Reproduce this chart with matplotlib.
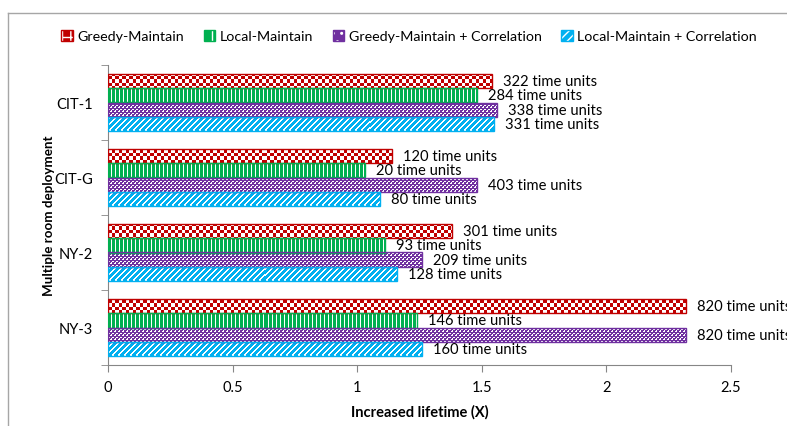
import numpy as np
import matplotlib
matplotlib.use("Agg")
import matplotlib.pyplot as plt
from matplotlib.patches import Patch
from matplotlib.lines import Line2D

plt.rcParams['font.family'] = ['Lato', 'DejaVu Sans']
plt.rcParams['hatch.linewidth'] = 1.0

# data
categories = ['CIT-1', 'CIT-G', 'NY-2', 'NY-3']
series = ['Greedy-Maintain', 'Local-Maintain',
          'Greedy-Maintain + Correlation', 'Local-Maintain + Correlation']
greedy = [1.54, 1.14, 1.38, 2.32]
local = [1.48, 1.03, 1.11, 1.24]
greedy_corr = [1.56, 1.48, 1.26, 2.32]
local_corr = [1.55, 1.09, 1.16, 1.26]
greedy_units = [322, 120, 301, 820]
local_units = [284, 20, 93, 146]
greedy_corr_units = [338, 403, 209, 820]
local_corr_units = [331, 80, 128, 160]
xticks = [0, 0.5, 1, 1.5, 2, 2.5]

values = [greedy, local, greedy_corr, local_corr]
units = [greedy_units, local_units, greedy_corr_units, local_corr_units]
colors = ['#C00000', '#00B050', '#7030A0', '#00B0F0']
kinds = ['checker', 'vstripe', 'dots', 'diag']
hatches = ['++', '||', '..', '////']

W, H = 787, 427
fig = plt.figure(figsize=(W / 100, H / 100), dpi=100)
ax_l, ax_r, ax_t, ax_b = 108, 731, 66, 366
ax = fig.add_axes([ax_l / W, (H - ax_b) / H, (ax_r - ax_l) / W, (ax_b - ax_t) / H])
pw, ph = ax_r - ax_l, ax_b - ax_t


def rgb(c):
    return np.array(matplotlib.colors.to_rgb(c))


def pattern(kind, color):
    # pixel texture that fills the bars, like the office-style pattern fills
    r = np.arange(ph)[:, None]
    c = np.arange(pw)[None, :]
    if kind == 'checker':
        white = ((np.floor(r / 3.5) + np.floor(c / 3.5)) % 2) == 0
    elif kind == 'vstripe':
        white = (c % 4 == 3) & (r >= 0)
    elif kind == 'dots':
        white = (((r % 4 == 0) & (c % 4 < 2)) | ((r % 4 == 2) & ((c + 2) % 4 < 2))
                 | ((r % 4 == 1) & (c % 4 == 3)))
    else:
        white = ((c + r) % 6) < 2
    img = np.ones((ph, pw, 3))
    img[~white] = rgb(color)
    return img


h = 0.193
offsets = [-1.5 * h, -0.5 * h, 0.5 * h, 1.5 * h]
y = np.arange(len(categories))

for vals, us, col, kind, off in zip(values, units, colors, kinds, offsets):
    bars = ax.barh(y + off, vals, height=h, facecolor='none', edgecolor=col,
                   linewidth=1, zorder=3)
    tex = pattern(kind, col)
    for b, v, u, yy in zip(bars, vals, us, y + off):
        im = ax.imshow(tex, extent=[0, 2.5, 4 - 0.5, -0.5], aspect='auto',
                       interpolation='nearest', zorder=2)
        im.set_clip_path(b)
        ax.annotate(f'{u} time units', (v, yy), xytext=(8, 0),
                    textcoords='offset points', va='center', ha='left',
                    fontsize=10.6, color='black', annotation_clip=False)

ax.set_xlim(0, 2.5)
ax.set_ylim(len(categories) - 0.5, -0.5)
ax.set_xticks(xticks)
ax.set_xticklabels([f'{t:g}' for t in xticks])
ax.set_yticks(y)
ax.set_yticklabels(categories)
ax.set_yticks(np.arange(len(categories) + 1) - 0.5, minor=True)
ax.tick_params(axis='y', which='major', length=0, pad=11, labelsize=10.5)
ax.tick_params(axis='y', which='minor', length=5, color='#868686', direction='out')
ax.tick_params(axis='x', length=5, color='#868686', labelsize=10.5, pad=6)
for s in ['top', 'right']:
    ax.spines[s].set_visible(False)
for s in ['left', 'bottom']:
    ax.spines[s].set_color('#868686')
ax.set_xlabel('Increased lifetime (X)', fontsize=10.5, fontweight='bold', labelpad=7)
ax.set_ylabel('Multiple room deployment', fontsize=9.6, fontweight='bold', labelpad=-1)

handles = [(Patch(facecolor=c, edgecolor='white', hatch=hs, linewidth=0),
            Patch(facecolor='none', edgecolor=c, linewidth=1))
           for c, hs in zip(colors, hatches)]
fig.legend(handles, series, loc='center', bbox_to_anchor=(409 / W, 1 - 37 / H),
           ncol=4, frameon=False, fontsize=10.3, handlelength=0.8, handleheight=0.8,
           handletextpad=0.3, columnspacing=1.4)

# outer chart border as in the source image
fig.add_artist(Line2D([8 / W, 1], [1 - 14 / H, 1 - 14 / H], color='#a6a6a6', lw=1))
fig.add_artist(Line2D([8 / W, 8 / W], [0, 1 - 14 / H], color='#a6a6a6', lw=1))

fig.savefig('out.png', dpi=100)
